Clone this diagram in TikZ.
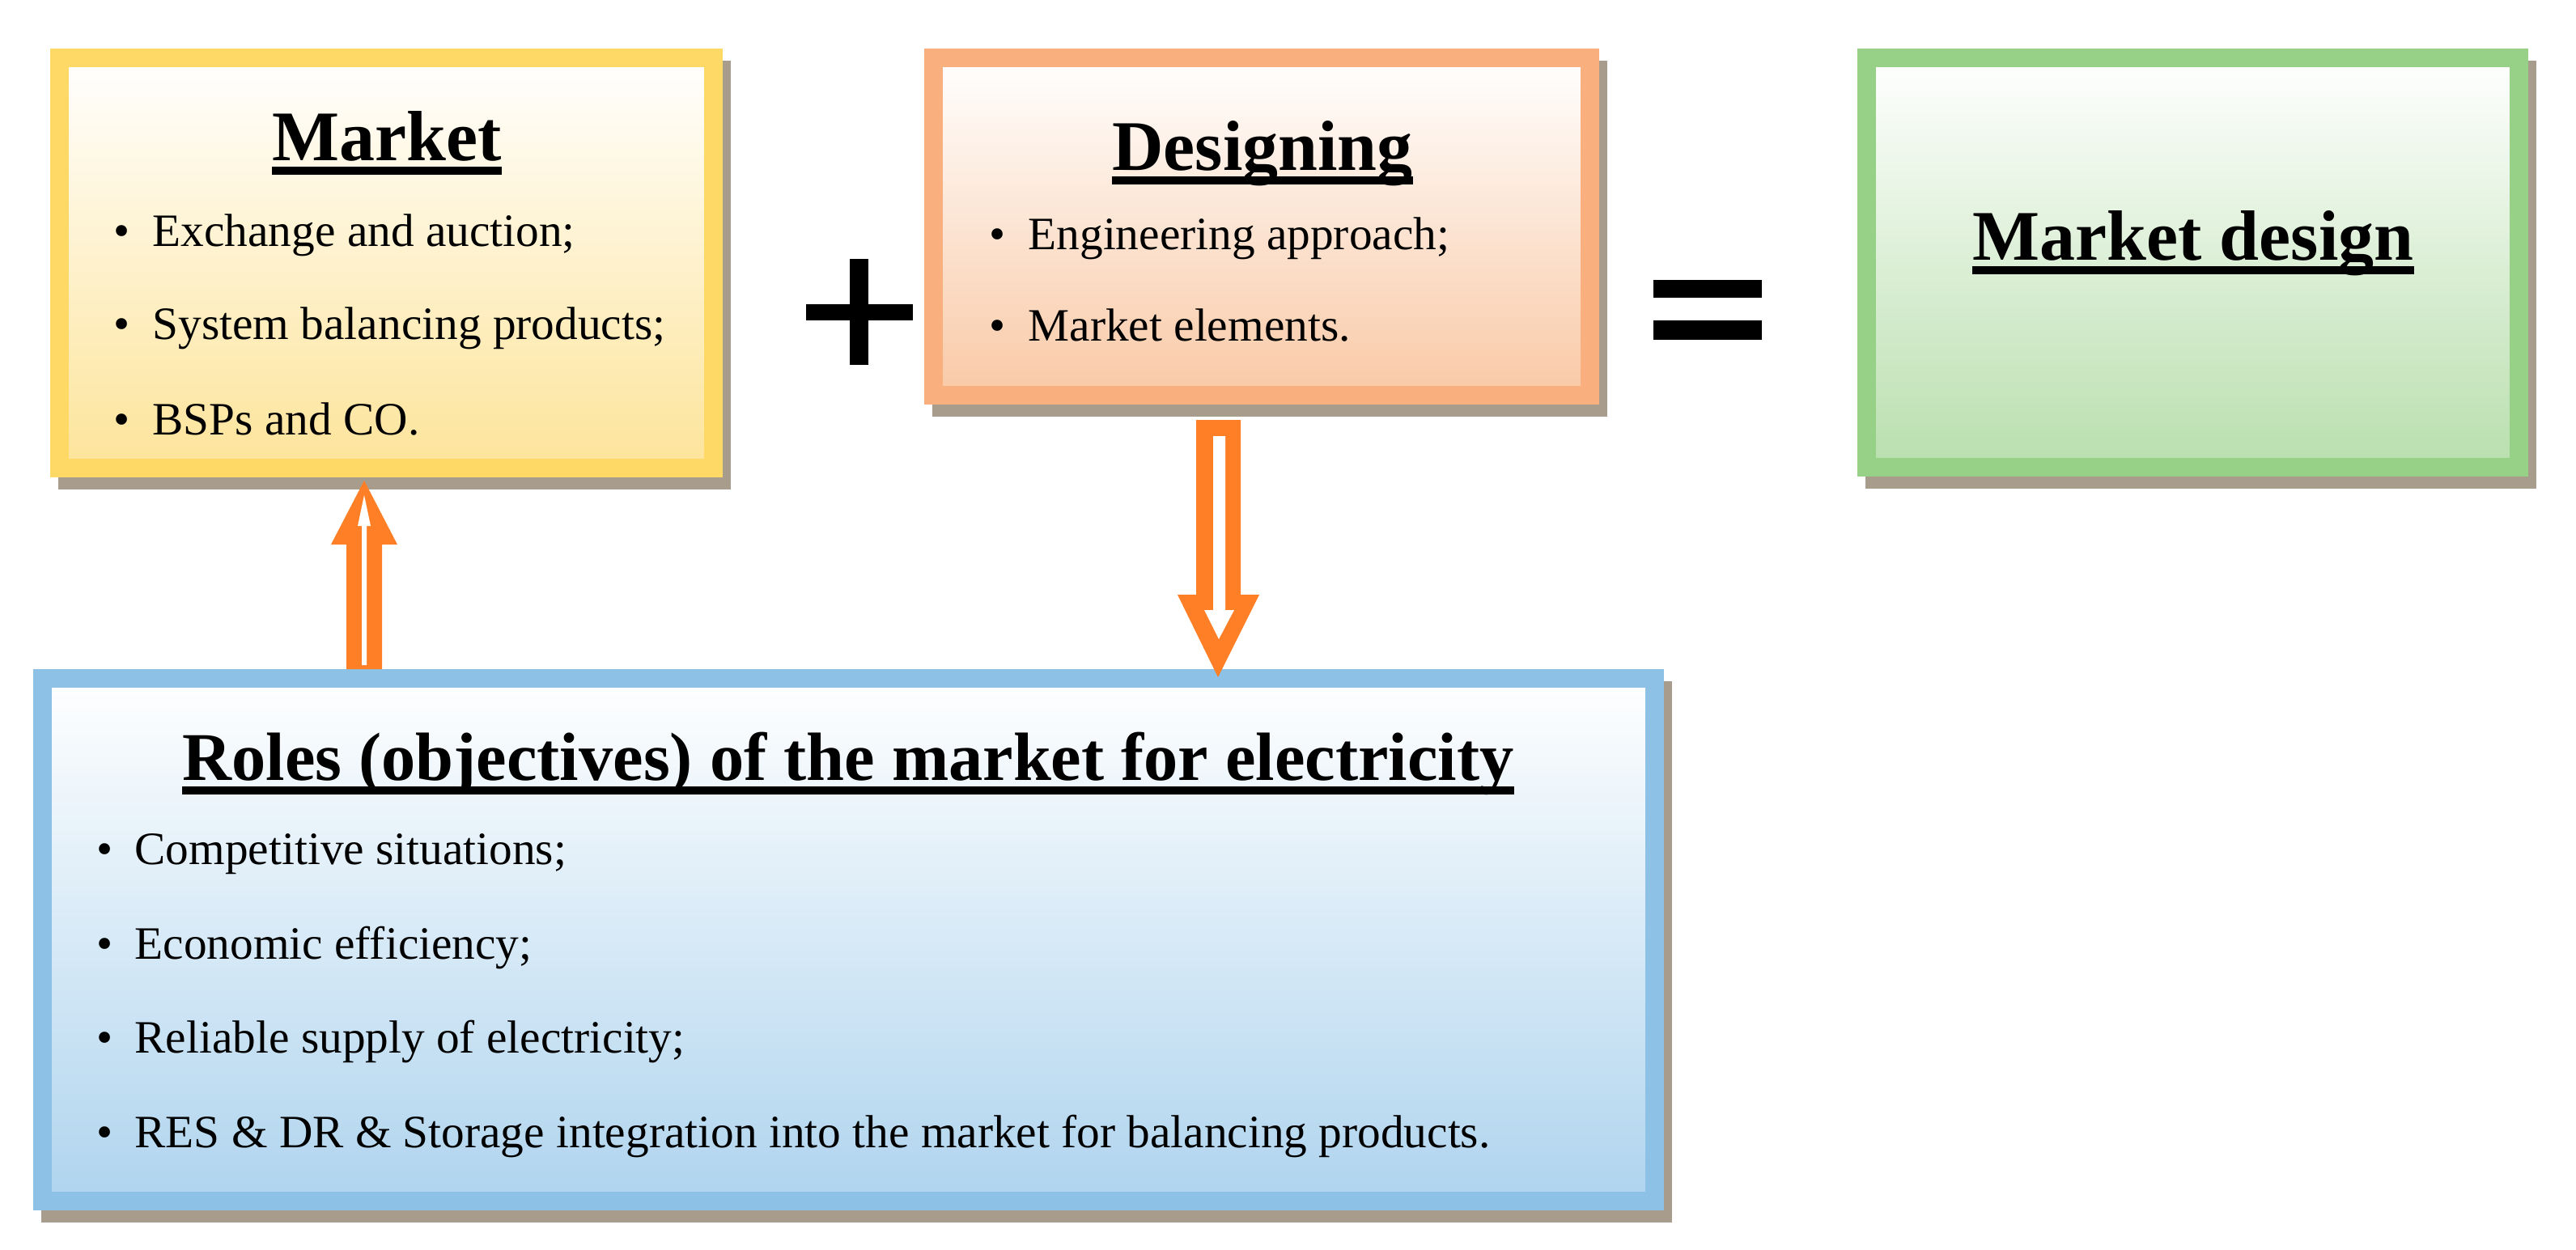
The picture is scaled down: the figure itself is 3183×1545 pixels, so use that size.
\documentclass[tikz,border=0pt]{standalone}
\usepackage{fontspec}
\setmainfont{Liberation Serif}
\usetikzlibrary{backgrounds,calc}
\definecolor{ybord}{HTML}{FFD966}\definecolor{ybot}{HTML}{FDE49A}
\definecolor{obord}{HTML}{F9B07E}\definecolor{obot}{HTML}{F9C9A6}
\definecolor{gbord}{HTML}{97D087}\definecolor{gbot}{HTML}{B9DFAE}
\definecolor{bbord}{HTML}{8DC2E6}\definecolor{bbot}{HTML}{AFD4EE}
\definecolor{arr}{HTML}{FF7F27}\definecolor{shd}{HTML}{A89C8C}
\begin{document}
\begin{tikzpicture}[x=0.01cm,y=-0.01cm,
  box/.style={draw=#1bord, line width=0.23cm, outer sep=0pt, inner sep=0pt, top color=white, bottom color=#1bot, shading angle=0},
  ttl/.style={anchor=base, inner sep=0pt, font=\fontsize{25}{28}\selectfont\bfseries},
  itm/.style={anchor=base west, inner sep=0pt, font=\fontsize{16.3}{18}\selectfont},
  ul/.style={line width=3pt}]
\useasboundingbox (0,0) rectangle (3183,1545);
\node[box=y, minimum width=8.08cm, minimum height=5.07cm] (market) at (477.5,325) {};
\node[box=o, minimum width=8.11cm, minimum height=4.17cm] (design) at (1559,280) {};
\node[box=g, minimum width=8.06cm, minimum height=5.06cm] (md) at (2709.5,324.5) {};
\node[box=b, minimum width=19.9cm, minimum height=6.46cm] (roles) at (1048.5,1161.5) {};
\begin{scope}[on background layer]
\foreach \n in {market,design,md,roles}{
  \fill[shd] ($(\n.south west)+(-11.5+10,11.5+15)$) rectangle ($(\n.north east)+(11.5+10,-11.5+15)$);}
\end{scope}
% titles
\node[ttl] (tm) at (478,198) {Market};
\node[ttl] (td) at (1560,210) {Designing};
\node[ttl] (tmd) at (2710,321) {Market design};
\node[ttl, font=\fontsize{24}{26}\selectfont\bfseries] (tr) at (1048,964) {Roles (objectives) of the market for electricity};
\foreach \t in {tm,td,tmd,tr}{\draw[ul] ($(\t.base west)+(0,13)$) -- ($(\t.base east)+(0,13)$);}
% bullets
\foreach \y/\s [count=\i] in {304/Exchange and auction;, 419/System balancing products;, 537/BSPs and CO.}{
  \node[itm] (mb\i) at (140,\y) {\textbullet}; \node[itm] (m\i) at (188,\y) {\s};}
\foreach \y/\s [count=\i] in {308/Engineering approach;, 421/Market elements.}{
  \node[itm] (db\i) at (1222,\y) {\textbullet}; \node[itm] (d\i) at (1270,\y) {\s};}
\foreach \y/\s [count=\i] in {1068/Competitive situations;, 1185/Economic efficiency;, 1301/Reliable supply of electricity;, 1418/RES \& DR \& Storage integration into the market for balancing products.}{
  \node[itm] (rb\i) at (119,\y) {\textbullet}; \node[itm] (r\i) at (166,\y) {\s};}
% plus and equals
\node[inner sep=0pt] (plus) at (1062,386) {};
\fill (1050,320) rectangle (1073,451); \fill (996,376) rectangle (1128,396);
\node[inner sep=0pt] (eq) at (2110,383) {};
\fill (2043,346) rectangle (2177,368); \fill (2043,396) rectangle (2177,420);
% arrows
\fill[arr] (428,827) -- (428,673) -- (409,673) -- (450,594) -- (491,673) -- (472,673) -- (472,827) -- cycle;
\fill[white] (447,822) -- (447,650) -- (442,650) -- (450,612) -- (458,650) -- (453,650) -- (453,822) -- cycle;
\fill[arr] (1478,519) -- (1533,519) -- (1533,735) -- (1556,735) -- (1505,837) -- (1455,735) -- (1478,735) -- cycle;
\fill[white] (1499,539) -- (1514,539) -- (1514,754) -- (1525,754) -- (1506,790) -- (1488,754) -- (1499,754) -- cycle;
\end{tikzpicture}
\end{document}
